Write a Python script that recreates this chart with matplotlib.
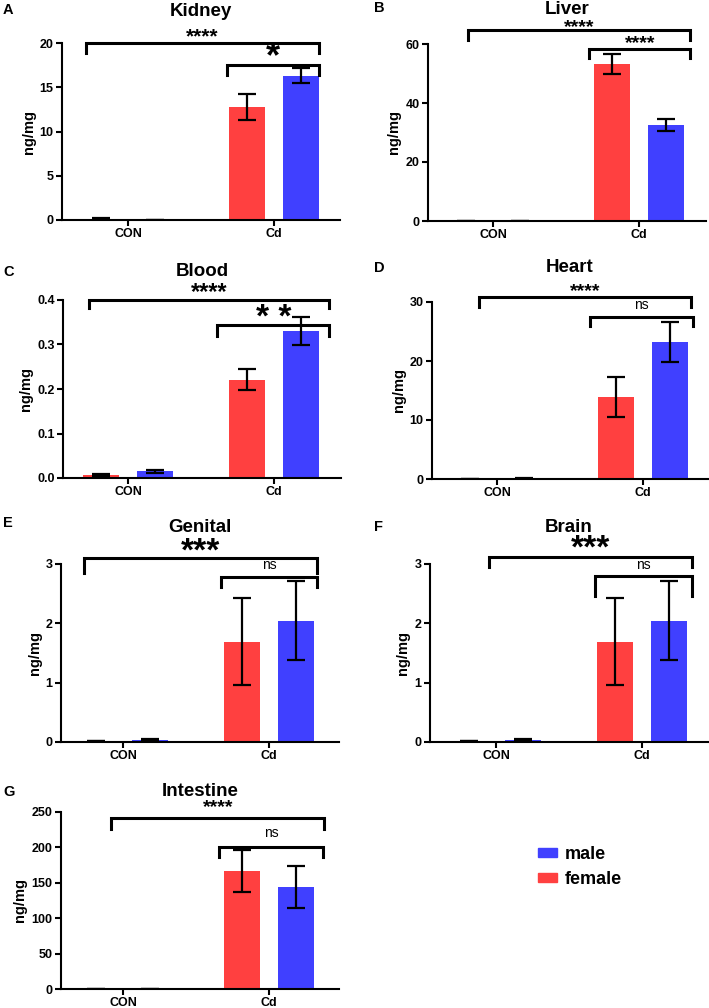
import matplotlib
matplotlib.use("Agg")
import matplotlib.pyplot as plt
from matplotlib.patches import Patch
import numpy as np

plt.rcParams['font.family'] = ['Liberation Sans', 'DejaVu Sans']
plt.rcParams['font.weight'] = 'bold'

# Dados por órgão (ng/mg): [CON, Cd]
groups = ['CON', 'Cd']
organs = ['Kidney', 'Liver', 'Blood', 'Heart', 'Genital', 'Brain', 'Intestine']
letters = ['A', 'B', 'C', 'D', 'E', 'F', 'G']

female = {
    'Kidney': [0.12, 12.8], 'Liver': [0.0, 53.2], 'Blood': [0.007, 0.221],
    'Heart': [0.0, 13.9], 'Genital': [0.02, 1.69], 'Brain': [0.02, 1.69],
    'Intestine': [0.0, 167.0],
}
female_err = {
    'Kidney': [0.05, 1.45], 'Liver': [0.0, 3.5], 'Blood': [0.002, 0.024],
    'Heart': [0.0, 3.45], 'Genital': [0.005, 0.735], 'Brain': [0.005, 0.735],
    'Intestine': [0.0, 30.0],
}
male = {
    'Kidney': [0.0, 16.3], 'Liver': [0.0, 32.6], 'Blood': [0.015, 0.330],
    'Heart': [0.1, 23.2], 'Genital': [0.04, 2.045], 'Brain': [0.04, 2.045],
    'Intestine': [0.0, 144.0],
}
male_err = {
    'Kidney': [0.0, 0.85], 'Liver': [0.0, 2.1], 'Blood': [0.003, 0.031],
    'Heart': [0.05, 3.35], 'Genital': [0.01, 0.665], 'Brain': [0.01, 0.665],
    'Intestine': [0.0, 30.0],
}
y_ticks = {
    'Kidney': [0, 5, 10, 15, 20], 'Liver': [0, 20, 40, 60],
    'Blood': [0.0, 0.1, 0.2, 0.3, 0.4], 'Heart': [0, 10, 20, 30],
    'Genital': [0, 1, 2, 3], 'Brain': [0, 1, 2, 3],
    'Intestine': [0, 50, 100, 150, 200, 250],
}
# significância: (rótulo geral, rótulo Cd female vs male)
sig_labels = {
    'Kidney': ('****', '*'), 'Liver': ('****', '****'), 'Blood': ('****', '* *'),
    'Heart': ('****', 'ns'), 'Genital': ('***', 'ns'), 'Brain': ('***', 'ns'),
    'Intestine': ('****', 'ns'),
}

c_female = '#ff4040'
c_male = '#4040ff'

W, H = 709, 1008
# layout em pixels: (esquerda do eixo, topo, base, posição x do CON)
layout = {
    'Kidney': (62, 43, 220, 128), 'Liver': (428, 44, 221, 493),
    'Blood': (63, 300, 478, 128), 'Heart': (432, 302, 479, 497),
    'Genital': (61, 564, 742, 123), 'Brain': (430, 564, 742, 496),
    'Intestine': (61, 812, 989, 123),
}
title_y = {'Kidney': 11, 'Liver': 9, 'Blood': 272, 'Heart': 268,
           'Genital': 527, 'Brain': 528, 'Intestine': 791}
letter_xy = {'Kidney': (3, 10), 'Liver': (374, 8), 'Blood': (3, 272), 'Heart': (374, 268),
             'Genital': (3, 523), 'Brain': (374, 527), 'Intestine': (3, 792)}
# colchetes: (x0, x1, y, y da ponta, y do centro do rótulo, tamanho da fonte)
brackets = {
    'Kidney': [(-0.29, 1.31, 20.0, 18.9, 21.1, 15), (0.68, 1.31, 17.5, 16.4, 19.0, 26)],
    'Liver': [(-0.17, 1.35, 64.7, 61.4, 66.8, 14), (0.66, 1.35, 58.3, 55.3, 61.4, 14)],
    'Blood': [(-0.27, 1.38, 0.40, 0.382, 0.425, 17), (0.61, 1.38, 0.344, 0.32, 0.37, 24)],
    'Heart': [(-0.12, 1.33, 30.85, 29.15, 32.4, 14), (0.64, 1.34, 27.5, 25.9, 29.5, 10)],
    'Genital': [(-0.27, 1.33, 3.10, 2.85, 3.30, 24), (0.67, 1.33, 2.78, 2.61, 2.98, 10)],
    'Brain': [(-0.05, 1.34, 3.12, 2.95, 3.34, 24), (0.68, 1.34, 2.80, 2.46, 2.98, 10)],
    'Intestine': [(-0.08, 1.38, 241.5, 226, 261, 14), (0.66, 1.37, 200.6, 186, 220, 10)],
}

spacing = 146.0
bw = 0.25
off = 0.185

fig = plt.figure(figsize=(W / 100, H / 100), dpi=100)

for organ, letter in zip(organs, letters):
    left, top, bottom, con_px = layout[organ]
    right = left + 278
    if organ == 'Heart':
        right = 708
    ax = fig.add_axes([left / W, 1 - bottom / H, (right - left) / W, (bottom - top) / H])
    x = np.arange(len(groups))
    ax.bar(x - off, female[organ], bw, color=c_female, zorder=2)
    ax.bar(x + off, male[organ], bw, color=c_male, zorder=2)
    ax.errorbar(x - off, female[organ], yerr=female_err[organ], fmt='none', ecolor='black',
                elinewidth=1.6, capsize=6.5, capthick=1.6, zorder=3)
    ax.errorbar(x + off, male[organ], yerr=male_err[organ], fmt='none', ecolor='black',
                elinewidth=1.6, capsize=6.5, capthick=1.6, zorder=3)

    yt = y_ticks[organ]
    ax.set_ylim(yt[0], yt[-1])
    ax.set_yticks(yt)
    if organ == 'Blood':
        ax.set_yticklabels([f'{v:.1f}' for v in yt])
    ax.set_xlim((left - con_px) / spacing, (right - con_px) / spacing)
    ax.set_xticks(x)
    ax.set_xticklabels(groups)
    ax.set_ylabel('ng/mg', fontsize=10.5, fontweight='bold', labelpad=3)
    for s in ('top', 'right'):
        ax.spines[s].set_visible(False)
    for s in ('left', 'bottom'):
        ax.spines[s].set_linewidth(1.5)
    ax.tick_params(axis='both', direction='out', length=4, width=1.5, labelsize=9, pad=2)
    for lab in ax.get_xticklabels() + ax.get_yticklabels():
        lab.set_fontweight('bold')

    # colchetes de significância
    for (x0, x1, yb, ytk, ylab, fs), lab in zip(brackets[organ], sig_labels[organ]):
        ax.plot([x0, x0, x1, x1], [ytk, yb, yb, ytk], color='black', lw=2.2,
                clip_on=False, solid_joinstyle='miter', zorder=4)
        if lab == 'ns':
            weight, shift = 'normal', -0.26 * fs
        else:
            weight, shift = 'bold', -0.42 * fs
        ax.annotate(lab, xy=((x0 + x1) / 2, ylab), xytext=(0, shift),
                    textcoords='offset points', ha='center', va='baseline',
                    fontsize=fs, fontweight=weight, annotation_clip=False)

    fig.text((left + right) / 2 / W, 1 - title_y[organ] / H, organ, ha='center', va='center',
             fontsize=13.5, fontweight='bold')
    lx, ly = letter_xy[organ]
    fig.text(lx / W, 1 - ly / H, letter, ha='left', va='center', fontsize=10.5, fontweight='bold')

handles = [Patch(color=c_male, label='male'), Patch(color=c_female, label='female')]
fig.legend(handles=handles, loc='center left', bbox_to_anchor=(522 / W, 1 - 867 / H),
           frameon=False, handlelength=1.05, handleheight=0.4,
           handletextpad=0.4, labelspacing=0.45, prop={'weight': 'bold', 'size': 13})

fig.savefig('out.png', dpi=100)
